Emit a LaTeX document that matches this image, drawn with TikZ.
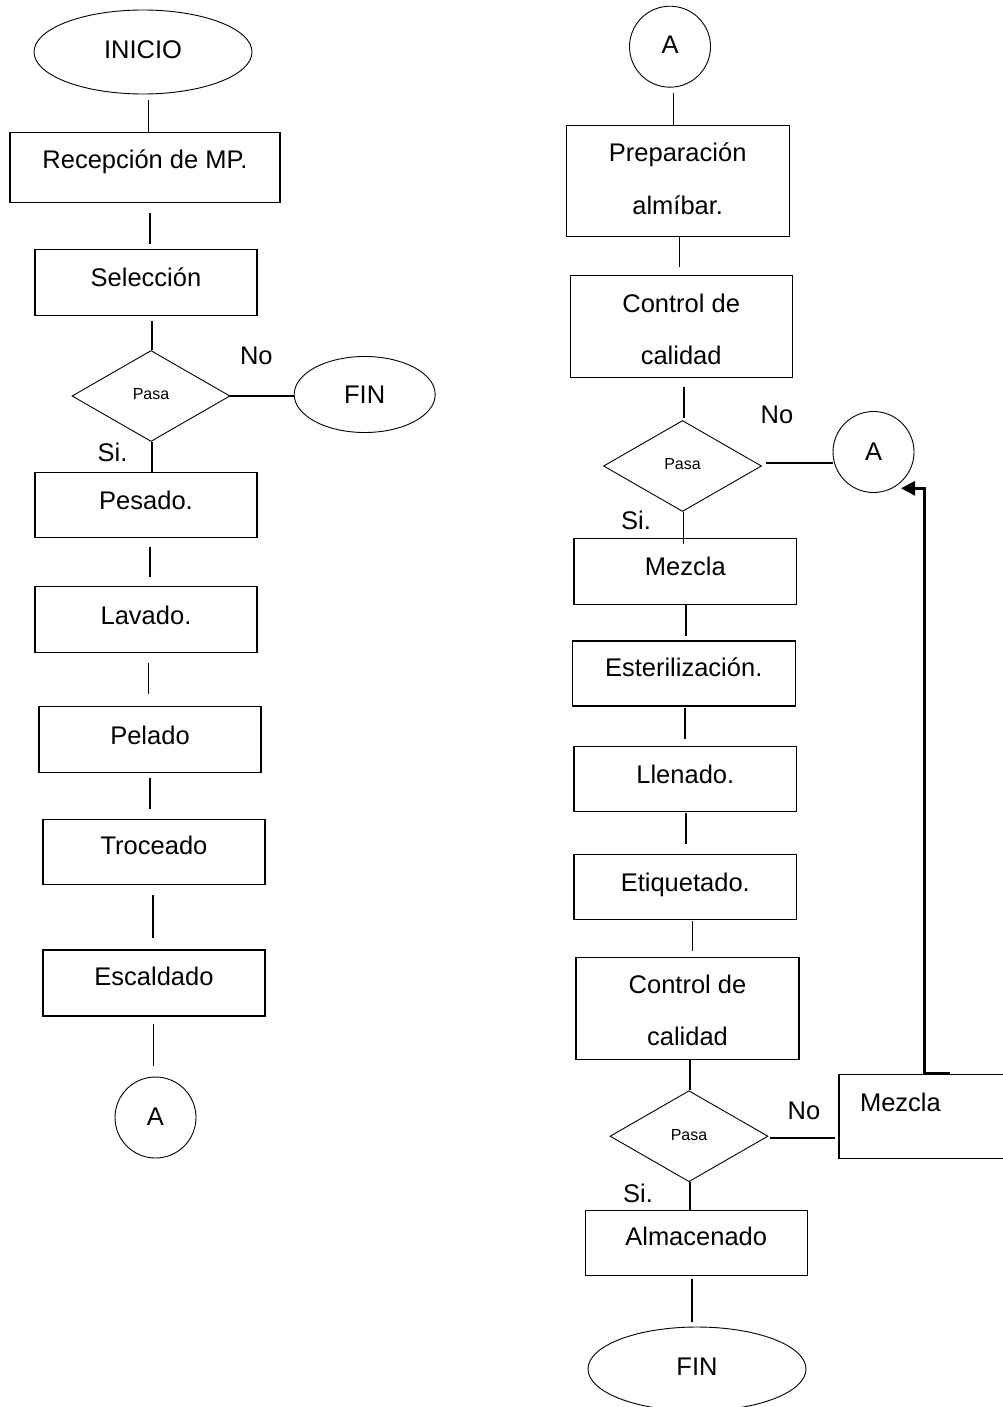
\documentclass[tikz,border=0pt]{standalone}
\usepackage{fontspec}
\setmainfont{Liberation Sans}
\usetikzlibrary{shapes.geometric,arrows.meta}
\newcommand\txtup[2]{\raisebox{#1pt}[0.716em][0pt]{#2}}
\begin{document}
\begin{tikzpicture}[x=1pt,y=-1pt,
  every node/.style={font=\fontsize{25.5}{30}\selectfont, inner sep=0pt},
  box/.style={draw, line width=1.1pt, minimum width=222pt},
  tall/.style={box, align=center, font=\fontsize{25.5}{52.5}\selectfont},
  oval/.style={draw, ellipse, line width=0.9pt},
  conn/.style={draw, circle, line width=0.9pt, minimum size=81pt},
  dec/.style={draw, diamond, line width=0.9pt, minimum width=158pt, minimum height=91pt, font=\fontsize{16}{19}\selectfont},
  link/.style={line width=1.6pt},
  back/.style={line width=3pt, -{Triangle[length=14pt,width=14pt]}}]
\useasboundingbox (0,0) rectangle (1003,1407);
\clip (0,0) rectangle (1003,1407);

% ---------- left column ----------
\node[oval, minimum width=218pt, minimum height=84pt] (ini) at (143,52) {\txtup{3}{INICIO}};
\node[box, minimum width=270pt, minimum height=70.4pt] (rec) at (145,167.5) {\txtup{8.5}{Recepción de MP.}\hspace{11pt}};
\node[box, minimum height=65.7pt] (sel) at (146,282.3) {\txtup{4.5}{Selección}};
\node[dec] (d1) at (151,396) {\txtup{2}{Pasa}};
\node[oval, minimum width=141pt, minimum height=76pt] (fin1) at (364.7,394.5) {FIN};
\node (no1) at (256.3,356) {No};
\node (si1) at (112.5,452) {Si.};
\node[box, minimum height=65pt] (pes) at (146,505.2) {\txtup{4.5}{Pesado.}};
\node[box, minimum height=65.6pt] (lav) at (146,619.5) {\txtup{3.7}{Lavado.}};
\node[box, minimum height=65.6pt] (pel) at (150,739.5) {\txtup{4.5}{Pelado}};
\node[box, minimum height=65.3pt] (tro) at (154,851.7) {\txtup{6}{Troceado}};
\node[box, minimum height=66pt] (esc) at (154,983) {\txtup{6.3}{Escaldado}};
\node[conn] (a1) at (155.5,1117.5) {\txtup{1.5}{A}};

\draw[link, shorten <=6pt] ([xshift=5.3pt]ini.south) -- ([xshift=5.3pt]ini.south |- rec.north);
\draw[link, shorten <=9.3pt, shorten >=5pt] ([xshift=5pt]rec.south) -- ([xshift=5pt]rec.south |- sel.north);
\draw[link, shorten <=5pt] ([xshift=6pt]sel.south) -- ([xshift=6pt]sel.south |- d1.north);
\draw[link] (d1.east) -- (d1.east -| fin1.west);
\draw[link] ([xshift=1pt]d1.south) -- ([xshift=1pt]d1.south |- pes.north);
\draw[link, shorten <=8.3pt, shorten >=9.4pt] ([xshift=4pt]pes.south) -- ([xshift=4pt]pes.south |- lav.north);
\draw[link, shorten <=10.4pt, shorten >=12.4pt] ([xshift=2.3pt]lav.south) -- ([xshift=2.3pt]lav.south |- pel.north);
\draw[link, shorten <=5pt, shorten >=10pt] (pel.south) -- (pel.south |- tro.north);
\draw[link, shorten <=9.7pt, shorten >=11.7pt] ([xshift=-1.3pt]tro.south) -- ([xshift=-1.3pt]tro.south |- esc.north);
\draw[link, shorten <=7.3pt, shorten >=10.3pt] ([xshift=-0.5pt]esc.south) -- ([xshift=-0.5pt]esc.south |- a1.north);

% ---------- right column ----------
\node[conn] (a2) at (670,46.7) {\txtup{2.5}{A}};
\node[tall, minimum width=223.3pt, minimum height=111pt] (pre) at (677.7,180.8) {\txtup{2}{Preparación}\\\txtup{2}{almíbar.}};
\node[tall, minimum width=222.3pt, minimum height=102.3pt] (cc1) at (681.2,326.5) {\txtup{-2.7}{Control de}\\\txtup{-2.7}{calidad}};
\node[dec] (d2) at (682.5,466) {\txtup{2.7}{Pasa}};
\node[conn] (a3) at (873.5,452) {A};
\node (no2) at (777,414.5) {No};
\node (si2) at (636,520.5) {Si.};
\node[box, minimum width=222.7pt, minimum height=65.7pt] (mez1) at (685.3,571.2) {\txtup{5}{Mezcla}};
\node[box, minimum width=222.7pt, minimum height=65pt] (est) at (683.7,673.5) {\txtup{6.5}{Esterilización.}};
\node[box, minimum width=222.7pt, minimum height=65pt] (lle) at (685.3,779.2) {\txtup{5}{Llenado.}};
\node[box, minimum width=222.7pt, minimum height=65.3pt] (eti) at (685.3,886.7) {\txtup{4.7}{Etiquetado.}};
\node[tall, minimum width=223pt, minimum height=101.7pt] (cc2) at (687.5,1008.2) {\txtup{-2.3}{Control de}\\\txtup{-2.3}{calidad}};
\node[dec] (d3) at (689,1136.2) {\txtup{1}{Pasa}};
\node[box, minimum width=222pt, minimum height=84pt] (mez2) at (950,1116.3) {\makebox[180pt][l]{\txtup{14}{Mezcla}}};
\node (no3) at (804,1111) {No};
\node (si3) at (638,1193) {Si.};
\node[box, minimum width=222.3pt, minimum height=64.5pt] (alm) at (696.2,1243) {\txtup{6.3}{Almacenado}};
\node[oval, minimum width=218pt, minimum height=84pt] (fin2) at (697,1369) {\txtup{3}{FIN}};

\draw[link, shorten <=5.6pt] ([xshift=3.3pt]a2.south) -- ([xshift=3.3pt]a2.south |- pre.north);
\draw[link, shorten >=8pt] ([xshift=1.6pt]pre.south) -- ([xshift=1.6pt]pre.south |- cc1.north);
\draw[link, shorten <=8.3pt, shorten >=2.2pt] ([xshift=2.8pt]cc1.south) -- ([xshift=2.8pt]cc1.south |- d2.north);
\draw[link, shorten <=4pt] ([yshift=3pt]d2.east) -- ([yshift=3pt]d2.east -| a3.west);
\draw[link, shorten >=-6pt] ([xshift=0.8pt]d2.south) -- ([xshift=0.8pt]d2.south |- mez1.north);
\draw[link, shorten >=4.3pt] ([xshift=0.4pt]mez1.south) -- ([xshift=0.4pt]mez1.south |- est.north);
\draw[link, shorten <=1.7pt, shorten >=7.4pt] ([xshift=1.3pt]est.south) -- ([xshift=1.3pt]est.south |- lle.north);
\draw[link, shorten <=1pt, shorten >=10pt] ([xshift=0.7pt]lle.south) -- ([xshift=0.7pt]lle.south |- eti.north);
\draw[link, shorten <=0.7pt, shorten >=5.6pt] ([xshift=7pt]eti.south) -- ([xshift=7pt]eti.south |- cc2.north);
\draw[link] ([xshift=2.5pt]cc2.south) -- ([xshift=2.5pt]cc2.south |- d3.north);
\draw[link, shorten <=2pt, shorten >=3pt] ([yshift=-1.5pt]d3.east) -- ([yshift=-1.5pt]d3.east -| mez2.west);
\draw[link] ([xshift=1pt]d3.south) -- ([xshift=1pt]d3.south |- alm.north);
\draw[link, shorten <=2.7pt, shorten >=5pt] ([xshift=-4.5pt]alm.south) -- ([xshift=-4.5pt]alm.south |- fin2.north);
\draw[back] (mez2.north) -- ++(-26,0) |- ([xshift=27.5pt,yshift=-36.3pt]a3.center);
\end{tikzpicture}
\end{document}
